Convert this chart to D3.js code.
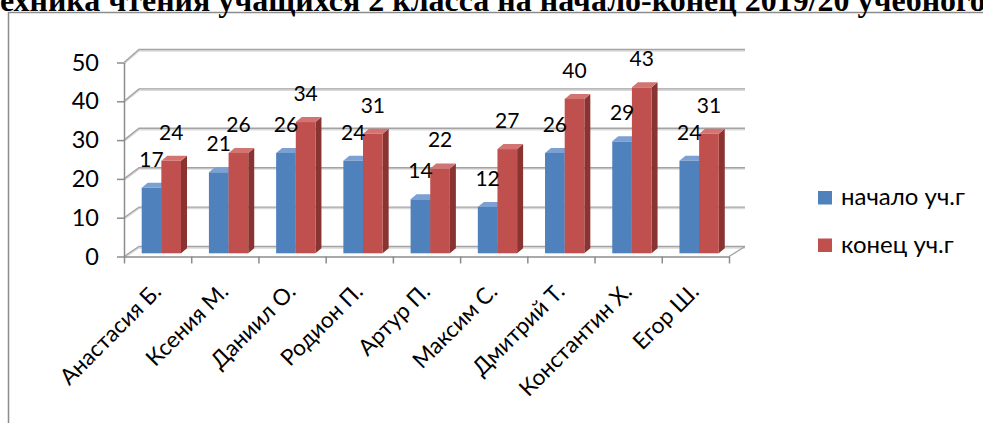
<!DOCTYPE html>
<html>
<head>
<meta charset="utf-8">
<script src="https://cdn.jsdelivr.net/npm/d3@7"></script>
<style>
  html, body { margin: 0; padding: 0; background: #fff; overflow: hidden; }
  svg { display: block; }
</style>
</head>
<body>
<svg id="chart" width="983" height="423"></svg>
<script>
// ---------- data ----------
const titleText = "Техника чтения учащихся 2 класса на начало-конец 2019/20 учебного года";
const categories = ["Анастасия Б.", "Ксения М.", "Даниил О.", "Родион П.", "Артур П.", "Максим С.", "Дмитрий Т.", "Константин Х.", "Егор Ш."];
const seriesNames = ["начало уч.г", "конец уч.г"];
const startValues = [17, 21, 26, 24, 14, 12, 26, 29, 24];
const endValues = [24, 26, 34, 31, 22, 27, 40, 43, 31];
const yTicks = [0, 10, 20, 30, 40, 50];

// ---------- styles ----------
const FONT = "Lato, 'Open Sans', sans-serif";
const colors = [
  { front: "#4F81BD", top: "#7BA0D2", side: "#3A6699" },
  { front: "#C0504D", top: "#D27572", side: "#8A3432" }
];

const svg = d3.select("#chart");

// frame
svg.append("rect")
  .attr("x", 8.5).attr("y", 12.5)
  .attr("width", 1100).attr("height", 500)
  .attr("fill", "none").attr("stroke", "#8c8c8c").attr("stroke-width", 1.5);

// title (cut off by the top of the picture, as in the reference)
const title = svg.append("text")
  .attr("font-family", "'Liberation Serif', 'Times New Roman', serif")
  .attr("font-weight", "bold")
  .attr("font-size", 26)
  .attr("y", 11)
  .text(titleText);
(function fitTitle() {
  const node = title.node();
  const iEnd = titleText.indexOf("учебного") + "учебного".length;
  const w = node.getSubStringLength(1, iEnd - 1);
  const fs = 26 * 986 / w;
  title.attr("font-size", fs);
  const tW = node.getSubStringLength(0, 1);
  title.attr("x", -tW);
})();

// ---------- scales ----------
const x0 = 124, x1 = 729;
const x = d3.scaleBand().domain(categories).range([x0, x1]).padding(0);
const xTick = d3.scaleLinear().domain([0, categories.length]).range([x0, x1]);
const yFront = d3.scaleLinear().domain([0, 50]).range([256.5, 62.5]);
const yBack = d3.scaleLinear().domain([0, 50]).range([246.5, 49.5]);
const yBar = d3.scaleLinear().domain([0, 50]).range([253.3, 60.3]);
const backLeft = 139, backRight = 745;
const sub = d3.scaleBand().domain(seriesNames).range([17.7, 57]).padding(0);
const depth = { dx: 6, dy: -5 };

// ---------- walls / gridlines ----------
const grid = svg.append("g");
yTicks.forEach(v => {
  const p = `M${x0},${yFront(v)}L${backLeft},${yBack(v)}L${backRight},${yBack(v)}`;
  grid.append("path").attr("d", p).attr("fill", "none")
    .attr("stroke", "#dadada").attr("stroke-width", 1.5)
    .attr("transform", "translate(0,1.4)");
  grid.append("path").attr("d", p).attr("fill", "none")
    .attr("stroke", "#a3a3a3").attr("stroke-width", 1.4);
});
grid.append("path")
  .attr("d", `M${x1},${yFront(0)}L${backRight},${yBack(0)}`)
  .attr("fill", "none").attr("stroke", "#a3a3a3").attr("stroke-width", 1.4);

// ---------- y axis ----------
const yAxis = svg.append("g")
  .attr("transform", `translate(${x0},0)`)
  .call(d3.axisLeft(yFront).tickValues(yTicks).tickSize(7).tickSizeOuter(0).tickPadding(18));
yAxis.select(".domain").attr("stroke", "#8c8c8c").attr("stroke-width", 1.5);
yAxis.selectAll(".tick line").attr("stroke", "#8c8c8c").attr("stroke-width", 1.5);
yAxis.selectAll(".tick text")
  .attr("font-family", FONT).attr("font-size", 23.5).attr("fill", "#000");

// ---------- x axis ----------
const xAxis = svg.append("g")
  .attr("transform", `translate(0,${yFront(0)})`)
  .call(d3.axisBottom(xTick).tickValues(d3.range(categories.length + 1)).tickSize(7).tickSizeOuter(0).tickFormat(""));
xAxis.select(".domain").attr("stroke", "#8c8c8c").attr("stroke-width", 1.5);
xAxis.selectAll(".tick line").attr("stroke", "#8c8c8c").attr("stroke-width", 1.5);

// ---------- bars ----------
const seriesData = [startValues, endValues];
const barsG = svg.append("g");
categories.forEach((c, i) => {
  seriesNames.forEach((s, k) => {
    const v = seriesData[k][i];
    const bx0 = x(c) + sub(s);
    const bx1 = bx0 + sub.bandwidth();
    const yt = yBar(v), yb = yBar(0);
    const col = colors[k];
    const g = barsG.append("g");
    g.append("path")
      .attr("d", `M${bx1},${yt}L${bx1 + depth.dx},${yt + depth.dy}L${bx1 + depth.dx},${yb + depth.dy}L${bx1},${yb}Z`)
      .attr("fill", col.side);
    g.append("rect")
      .attr("x", bx0).attr("y", yt).attr("width", bx1 - bx0).attr("height", yb - yt)
      .attr("fill", col.front);
    g.append("path")
      .attr("d", `M${bx0},${yt}L${bx0 + depth.dx},${yt + depth.dy}L${bx1 + depth.dx},${yt + depth.dy}L${bx1},${yt}Z`)
      .attr("fill", col.top);
  });
});

// ---------- data labels ----------
const labelsG = svg.append("g");
categories.forEach((c, i) => {
  seriesNames.forEach((s, k) => {
    const v = seriesData[k][i];
    const cx = x(c) + sub(s) + sub.bandwidth() / 2;
    labelsG.append("text")
      .attr("x", cx).attr("y", yBar(v) - 21)
      .attr("text-anchor", "middle")
      .attr("font-family", FONT).attr("font-size", 21).attr("fill", "#000")
      .text(v);
  });
});

// ---------- category labels ----------
const catG = svg.append("g");
categories.forEach(c => {
  const cx = x(c) + x.bandwidth() / 2 + 5;
  catG.append("text")
    .attr("transform", `translate(${cx},293) rotate(-45)`)
    .attr("text-anchor", "end")
    .attr("font-family", FONT).attr("font-size", 22.5).attr("fill", "#000")
    .text(c);
});

// ---------- legend ----------
const legend = svg.append("g");
seriesNames.forEach((s, k) => {
  const ly = 205 + k * 47.5;
  legend.append("rect")
    .attr("x", 818).attr("y", ly - 14).attr("width", 14).attr("height", 13.5)
    .attr("fill", colors[k].front);
  legend.append("text")
    .attr("x", 841).attr("y", ly)
    .attr("font-family", FONT).attr("font-size", 24).attr("fill", "#000")
    .text(s);
});
</script>
</body>
</html>
